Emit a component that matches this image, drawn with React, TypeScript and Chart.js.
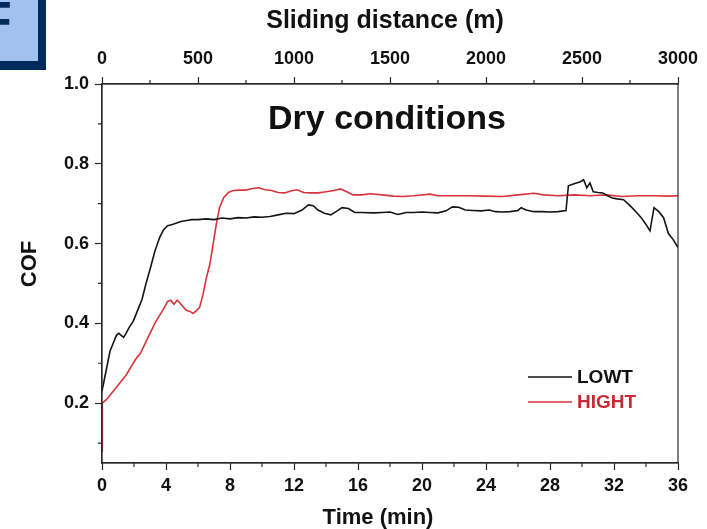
import React, { useEffect, useRef } from 'react';
import { Chart, registerables } from 'chart.js';

Chart.register(...registerables);

const FONT = '"Liberation Sans", Arial, Helvetica, sans-serif';

// ---- data ----
const timeTicks = [0, 4, 8, 12, 16, 20, 24, 28, 32, 36];
const timeMinorTicks = [2, 6, 10, 14, 18, 22, 26, 30, 34];
const distanceTicks = [0, 500, 1000, 1500, 2000, 2500, 3000];
const distanceMinorTicks = [250, 750, 1250, 1750, 2250, 2750];
const cofTicks = [0.2, 0.4, 0.6, 0.8, 1.0];
const cofMinorTicks = [0.1, 0.3, 0.5, 0.7, 0.9];

const xTitle = 'Time (min)';
const x2Title = 'Sliding distance (m)';
const yTitle = 'COF';
const panelTitle = 'Dry conditions';

const lowtTime = [
  0.0, 0.15, 0.3, 0.5, 0.7, 0.9, 1.05, 1.2, 1.35, 1.5, 1.7, 1.95, 2.2, 2.5, 2.75, 3.0, 3.3, 3.6, 3.85,
  4.1, 4.4, 4.7, 5.0, 5.3, 5.6, 6.0, 6.5, 7.0, 7.5, 8.0, 8.5, 9.0, 9.5, 10.0, 10.5, 11.0, 11.5, 12.0,
  12.5, 12.9, 13.2, 13.5, 13.9, 14.3, 14.7, 15.0, 15.4, 15.8, 16.2, 17.0, 17.5, 18.0, 18.5, 19.0, 19.5,
  20.0, 20.5, 21.0, 21.5, 21.9, 22.3, 22.7, 23.2, 23.7, 24.2, 24.6, 25.0, 25.5, 26.0, 26.2, 26.5, 27.0,
  27.5, 28.0, 28.5, 29.0, 29.15, 29.5, 29.9, 30.1, 30.3, 30.5, 30.7, 31.0, 31.3, 31.6, 31.9, 32.2, 32.6,
  33.0, 33.3, 33.7, 34.0, 34.25, 34.5, 34.8, 35.1, 35.4, 35.7, 36.0,
];
const lowtCof = [
  0.23, 0.26, 0.29, 0.33, 0.35, 0.37, 0.375, 0.37, 0.365, 0.375, 0.39, 0.405, 0.43, 0.46, 0.5, 0.535,
  0.58, 0.615, 0.635, 0.645, 0.648, 0.652, 0.656, 0.658, 0.66, 0.66, 0.662, 0.66, 0.664, 0.662, 0.665,
  0.664, 0.667, 0.666, 0.668, 0.672, 0.676, 0.675, 0.684, 0.697, 0.695, 0.684, 0.676, 0.672, 0.682,
  0.69, 0.688, 0.678, 0.678, 0.677, 0.678, 0.679, 0.673, 0.678, 0.678, 0.679, 0.678, 0.677, 0.682,
  0.692, 0.691, 0.684, 0.683, 0.682, 0.684, 0.68, 0.679, 0.68, 0.683, 0.69, 0.684, 0.68, 0.68, 0.679,
  0.68, 0.683, 0.745, 0.75, 0.755, 0.76, 0.74, 0.752, 0.73, 0.728, 0.727, 0.72, 0.714, 0.712, 0.71,
  0.695, 0.683, 0.665, 0.648, 0.632, 0.69, 0.68, 0.665, 0.625, 0.61, 0.59,
];

const hightTime = [
  0.0, 0.02, 0.3, 0.6, 0.9, 1.2, 1.5, 1.8, 2.1, 2.4, 2.7, 3.0, 3.3, 3.6, 3.9, 4.1, 4.3, 4.5, 4.7, 4.9,
  5.1, 5.3, 5.5, 5.7, 5.9, 6.1, 6.3, 6.5, 6.75, 6.95, 7.15, 7.35, 7.6, 7.9, 8.2, 8.6, 9.0, 9.4, 9.8,
  10.2, 10.6, 11.0, 11.4, 11.8, 12.2, 12.6, 13.0, 13.5, 14.0, 14.5, 14.9, 15.3, 15.7, 16.2, 16.8, 17.5,
  18.2, 18.8, 19.5, 20.5, 21.0, 22.0, 23.0, 24.0, 25.0, 26.0, 27.0, 27.6, 28.5, 29.5, 30.5, 31.5, 32.5,
  33.5, 34.5, 35.5, 36.0,
];
const hightCof = [
  0.08, 0.2, 0.21, 0.225, 0.24, 0.255, 0.27, 0.29, 0.31, 0.325, 0.35, 0.375, 0.4, 0.42, 0.44, 0.455,
  0.458, 0.448, 0.458, 0.45, 0.44, 0.432, 0.43, 0.425, 0.432, 0.44, 0.47, 0.51, 0.55, 0.6, 0.65, 0.69,
  0.715, 0.728, 0.733, 0.734, 0.734, 0.738, 0.74, 0.735, 0.733, 0.728, 0.727, 0.732, 0.735, 0.728,
  0.727, 0.727, 0.73, 0.733, 0.737, 0.73, 0.722, 0.722, 0.725, 0.722, 0.719, 0.718, 0.72, 0.724, 0.72,
  0.72, 0.72, 0.719, 0.718, 0.722, 0.726, 0.722, 0.72, 0.722, 0.72, 0.722, 0.718, 0.72, 0.72, 0.719,
  0.72,
];

const seriesNames = ['LOWT', 'HIGHT'];
const seriesColors = ['#151515', '#d8343c'];
const legendTextColors = ['#111111', '#c42b35'];

const AXIS_COLOR = '#2a2a2a';

const minorTicksPlugin = {
  id: 'minorTicks',
  afterDraw(chart: any) {
    const ctx = chart.ctx;
    const { left, right, top, bottom } = chart.chartArea;
    ctx.save();
    ctx.strokeStyle = AXIS_COLOR;
    ctx.lineWidth = 1.2;
    ctx.strokeRect(left, top, right - left, bottom - top);
    const len = 4;
    const x = chart.scales.x;
    const x2 = chart.scales.x2;
    const y = chart.scales.y;
    ctx.beginPath();
    timeMinorTicks.forEach((v) => {
      const px = x.getPixelForValue(v);
      ctx.moveTo(px, bottom);
      ctx.lineTo(px, bottom + len);
    });
    distanceMinorTicks.forEach((v) => {
      const px = x2.getPixelForValue(v);
      ctx.moveTo(px, top);
      ctx.lineTo(px, top - len);
    });
    cofMinorTicks.forEach((v) => {
      const py = y.getPixelForValue(v);
      ctx.moveTo(left, py);
      ctx.lineTo(left - len, py);
    });
    ctx.stroke();
    ctx.restore();
  },
};

const annotationsPlugin = {
  id: 'annotations',
  afterDraw(chart: any) {
    const ctx = chart.ctx;
    const { left, right } = chart.chartArea;
    ctx.save();
    ctx.fillStyle = '#111';
    ctx.textAlign = 'center';
    ctx.textBaseline = 'alphabetic';
    // inner panel title
    ctx.font = `bold 34px ${FONT}`;
    ctx.fillText(panelTitle, (left + right) / 2 - 3, 129);
    // axis titles
    ctx.textBaseline = 'middle';
    ctx.font = `bold 25px ${FONT}`;
    ctx.fillText(x2Title, 385, 21);
    ctx.font = `bold 22px ${FONT}`;
    ctx.fillText(xTitle, 378, 518);
    ctx.save();
    ctx.translate(30, 264);
    ctx.rotate(-Math.PI / 2);
    ctx.fillText(yTitle, 0, 0);
    ctx.restore();
    // legend
    const lx0 = 528;
    const lx1 = 572;
    const ys = [377, 402];
    chart.data.datasets.forEach((ds: any, i: number) => {
      ctx.strokeStyle = ds.borderColor;
      ctx.lineWidth = 1.6;
      ctx.beginPath();
      ctx.moveTo(lx0, ys[i]);
      ctx.lineTo(lx1, ys[i]);
      ctx.stroke();
      ctx.fillStyle = legendTextColors[i];
      ctx.font = `bold 19px ${FONT}`;
      ctx.textAlign = 'left';
      ctx.textBaseline = 'middle';
      ctx.fillText(ds.label, 577, ys[i] + 1);
    });
    ctx.restore();
  },
};

function ChartCanvas() {
  const ref = useRef<HTMLCanvasElement | null>(null);
  useEffect(() => {
    if (!ref.current) return;
    const tickFont = { family: FONT, size: 18, weight: 'bold' as const };
    const chart = new Chart(ref.current, {
      type: 'line',
      data: {
        datasets: [
          {
            label: seriesNames[0],
            data: lowtTime.map((t, i) => ({ x: t, y: lowtCof[i] })),
            borderColor: seriesColors[0],
            borderWidth: 1.6,
            pointRadius: 0,
            tension: 0,
            xAxisID: 'x',
            yAxisID: 'y',
          },
          {
            label: seriesNames[1],
            data: hightTime.map((t, i) => ({ x: t, y: hightCof[i] })),
            borderColor: seriesColors[1],
            borderWidth: 1.6,
            pointRadius: 0,
            tension: 0,
            xAxisID: 'x',
            yAxisID: 'y',
          },
        ],
      },
      options: {
        animation: false,
        responsive: false,
        layout: { padding: { left: 0, right: 29, top: 0, bottom: 0 } },
        plugins: {
          legend: { display: false },
          tooltip: { enabled: false },
          title: { display: false },
        },
        scales: {
          x: {
            type: 'linear',
            position: 'bottom',
            min: 0,
            max: 36,
            afterBuildTicks: (s: any) => {
              s.ticks = timeTicks.map((v) => ({ value: v }));
            },
            afterFit: (s: any) => {
              s.height = 66;
            },
            ticks: { font: tickFont, color: '#111', padding: 5, maxRotation: 0, autoSkip: false, callback: (v: any) => String(v) },
            grid: { drawOnChartArea: false, tickLength: 7, tickColor: AXIS_COLOR, tickWidth: 1.2 },
            border: { display: true, color: AXIS_COLOR, width: 1.2 },
            title: { display: false },
          },
          x2: {
            type: 'linear',
            position: 'top',
            min: 0,
            max: 3000,
            afterBuildTicks: (s: any) => {
              s.ticks = distanceTicks.map((v) => ({ value: v }));
            },
            afterFit: (s: any) => {
              s.height = 84;
            },
            ticks: { font: tickFont, color: '#111', padding: 7, maxRotation: 0, autoSkip: false, callback: (v: any) => String(v) },
            grid: { drawOnChartArea: false, tickLength: 7, tickColor: AXIS_COLOR, tickWidth: 1.2 },
            border: { display: true, color: AXIS_COLOR, width: 1.2 },
            title: { display: false },
          },
          y: {
            type: 'linear',
            position: 'left',
            min: 0.05,
            max: 1.0,
            afterBuildTicks: (s: any) => {
              s.ticks = cofTicks.map((v) => ({ value: v }));
            },
            afterFit: (s: any) => {
              s.width = 102;
            },
            ticks: {
              font: tickFont,
              color: '#111',
              padding: 6,
              callback: (v: any) => Number(v).toFixed(1),
            },
            grid: { drawOnChartArea: false, tickLength: 7, tickColor: AXIS_COLOR, tickWidth: 1.2 },
            border: { display: true, color: AXIS_COLOR, width: 1.2 },
            title: { display: false },
          },
        },
      },
      plugins: [minorTicksPlugin, annotationsPlugin],
    } as any);
    return () => chart.destroy();
  }, []);
  return <canvas ref={ref} width={707} height={529} style={{ display: 'block' }} />;
}

export default function App() {
  return (
    <div style={{ position: 'absolute', left: 0, top: 0, width: 707, height: 529, background: '#fff', overflow: 'hidden' }}>
      <ChartCanvas />
      <div
        style={{
          position: 'absolute',
          left: 0,
          top: 0,
          width: 38,
          height: 61,
          background: '#a3c1ef',
          borderRight: '8px solid #002a5e',
          borderBottom: '9px solid #002a5e',
          overflow: 'hidden',
        }}
      >
        <span
          style={{
            position: 'absolute',
            left: -20,
            top: -6,
            fontFamily: FONT,
            fontWeight: 'bold',
            fontSize: 52,
            lineHeight: '52px',
            color: '#002a5e',
          }}
        >
          F
        </span>
      </div>
    </div>
  );
}
